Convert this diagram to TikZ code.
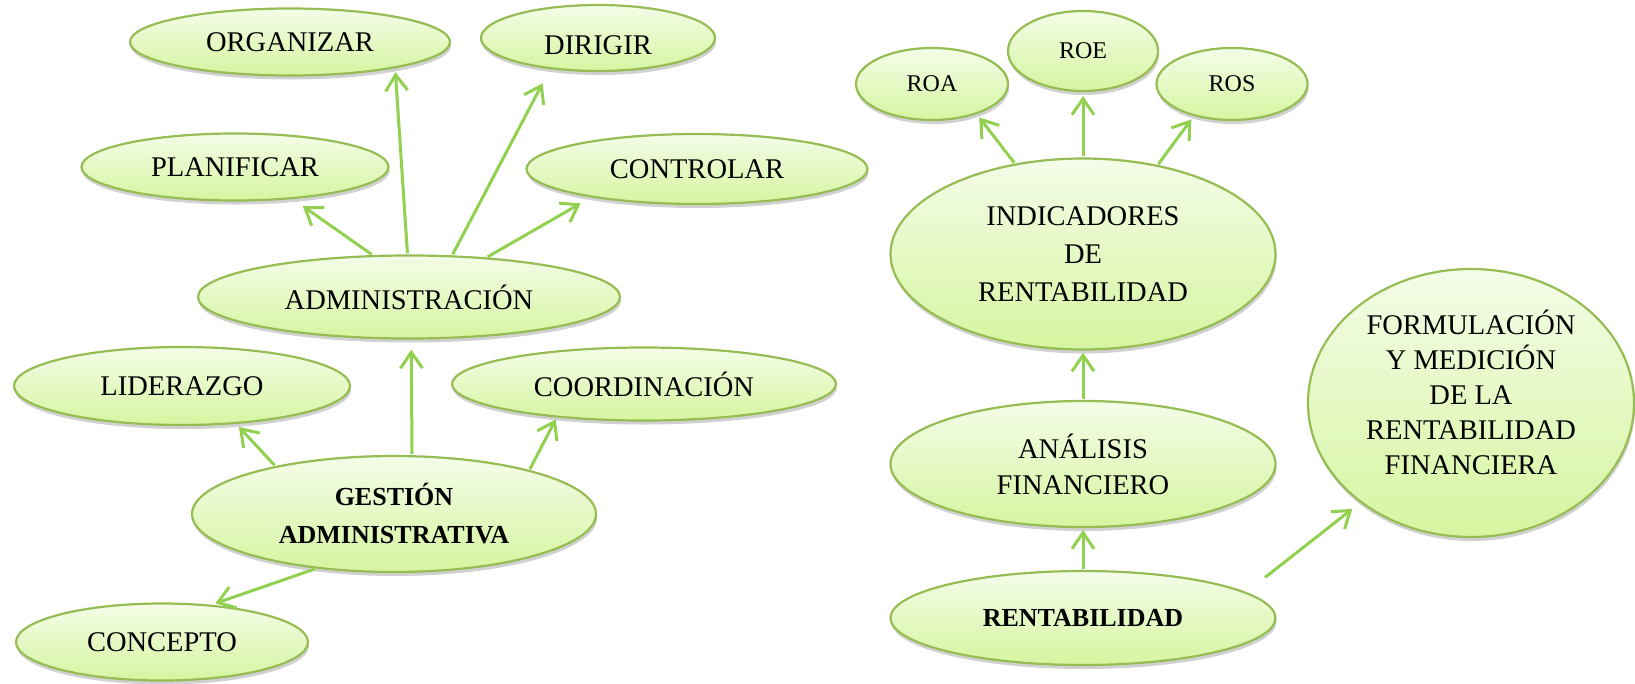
\documentclass[tikz,border=0pt]{standalone}
\usepackage{fontspec}
\setmainfont{Liberation Serif}
\usetikzlibrary{shapes.geometric, arrows.meta, shadows}
\definecolor{verdeflecha}{RGB}{146,208,80}
\definecolor{bordeverde}{RGB}{150,188,84}
\definecolor{rellenoalto}{RGB}{244,252,232}
\definecolor{rellenobajo}{RGB}{214,245,160}
\tikzset{
  >={Straight Barb[length=16pt,width=22pt]},
  burbuja/.style={
    ellipse,
    draw=bordeverde,
    line width=2.2pt,
    top color=rellenoalto,
    bottom color=rellenobajo,
    inner sep=0pt,
    align=center,
    font=\fontsize{28.5}{36}\selectfont,
    drop shadow={shadow xshift=1pt, shadow yshift=-4pt, opacity=0.3, fill=black!60},
  },
  fuerte/.style={
    burbuja,
    font=\fontsize{26}{38}\selectfont\bfseries,
  },
  pequena/.style={
    burbuja,
    font=\fontsize{24}{30}\selectfont,
  },
  flecha/.style={
    ->,
    line width=3pt,
    draw=verdeflecha,
    shorten <=1pt,
    shorten >=4pt,
  },
}

\begin{document}
\begin{tikzpicture}[x=1pt, y=-1pt]
  \useasboundingbox (0,0) rectangle (1635,683);

  \node[burbuja, minimum width=320pt, minimum height=67pt] (organizar) at (290,42) {ORGANIZAR};
  \node[burbuja, text height=34pt, minimum width=234pt, minimum height=66pt] (dirigir) at (598,38) {DIRIGIR};
  \node[burbuja, minimum width=307pt, minimum height=67pt] (planificar) at (235,167) {PLANIFICAR};
  \node[burbuja, minimum width=341pt, minimum height=70pt] (controlar) at (697,169) {CONTROLAR};
  \node[burbuja, minimum width=422pt, minimum height=83pt] (administracion) at (409,297) {ADMINISTRACIÓN};
  \node[burbuja, minimum width=336pt, minimum height=78pt] (liderazgo) at (182,386) {LIDERAZGO};
  \node[burbuja, minimum width=384pt, minimum height=73pt] (coordinacion) at (644,384) {COORDINACIÓN};
  \node[fuerte, minimum width=404pt, minimum height=116pt] (gestion) at (394,514) {GESTIÓN\\ADMINISTRATIVA};
  \node[burbuja, minimum width=292pt, minimum height=77pt] (concepto) at (162,642) {CONCEPTO};

  \node[pequena, minimum width=152pt, minimum height=72pt] (roa) at (932,84) {ROA};
  \node[pequena, minimum width=150pt, minimum height=80pt] (roe) at (1083,51) {ROE};
  \node[pequena, minimum width=151pt, minimum height=72pt] (ros) at (1232,84) {ROS};
  \node[burbuja, font=\fontsize{28.5}{38}\selectfont, minimum width=385pt, minimum height=191pt] (indicadores) at (1083,254) {INDICADORES\\DE\\RENTABILIDAD};
  \node[burbuja, minimum width=385pt, minimum height=126pt] (analisis) at (1083,464) {ANÁLISIS\\FINANCIERO};
  \node[fuerte, minimum width=385pt, minimum height=94pt] (rentabilidad) at (1083,618) {RENTABILIDAD};
  \node[burbuja, font=\fontsize{28.5}{35}\selectfont, text depth=22pt, minimum width=326pt, minimum height=268pt] (formulacion) at (1471,403) {FORMULACIÓN\\Y MEDICIÓN\\DE LA\\RENTABILIDAD\\FINANCIERA};

  \draw[flecha, shorten >=12pt] (administracion.131) -- (planificar.-29);
  \draw[flecha] (administracion.92) -- (organizar.-14.5);
  \draw[flecha, shorten >=16pt] (administracion.44) -- (dirigir.-147);
  \draw[flecha, shorten >=12pt] (administracion.27) -- (controlar.-165);
  \draw[flecha] (gestion.158) -- (liderazgo.-35);
  \draw[flecha, shorten >=10pt] (gestion.73) -- (administracion.-87);
  \draw[flecha, shorten >=2pt] (gestion.18) -- (coordinacion.-159);
  \draw[flecha] (gestion.-145) -- (concepto.37);

  \draw[flecha] (indicadores.127) -- (roa.-34);
  \draw[flecha] (indicadores.north) -- (roe.south);
  \draw[flecha] (indicadores.50) -- (ros.-140);
  \draw[flecha, shorten >=2pt] (analisis.north) -- (indicadores.south);
  \draw[flecha, shorten >=2pt] (rentabilidad.north) -- (analisis.south);
  \draw[flecha, shorten <=24pt, shorten >=10pt] (rentabilidad.9) -- (formulacion.-138);
\end{tikzpicture}
\end{document}
